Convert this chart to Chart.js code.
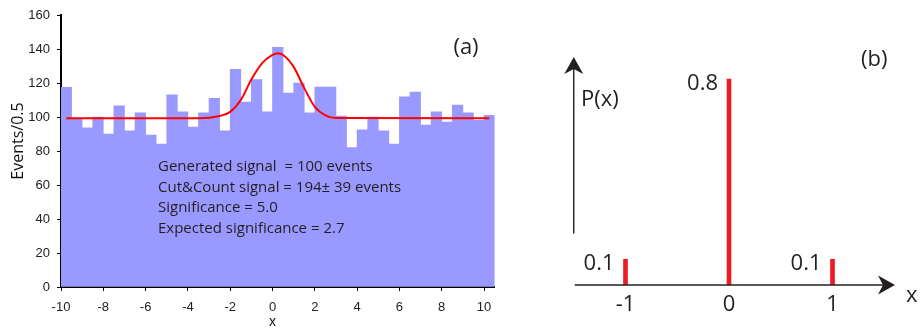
<!DOCTYPE html>
<html><head><meta charset="utf-8">
<script src="https://cdn.jsdelivr.net/npm/chart.js@4.4.1/dist/chart.umd.min.js"></script>
<style>
html,body{margin:0;padding:0;background:#fff;width:920px;height:328px;overflow:hidden}
#ca{position:absolute;left:0;top:0}
#cb{position:absolute;left:520px;top:0}
</style></head><body>
<canvas id="ca" width="520" height="328"></canvas>
<canvas id="cb" width="400" height="328"></canvas>
<script>
// ---------- panel (a) data ----------
const binStart = -10;
const binWidth = 0.5;
const counts = [117.5, 99, 93.7, 100, 90, 106.5, 91.8, 102.4, 89.4, 84.1,
  113, 103, 94, 102.4, 111, 91.8, 128, 108.8, 122, 103,
  141, 114, 120, 102.4, 117.6, 117.6, 100.6, 82, 92.4, 100,
  91.8, 84.1, 111.8, 114.7, 95.3, 103, 97, 107, 102.4, 98, 101];
const fitX = [-9.75, -3.5, -2.5, -2, -1.5, -1, -0.5, 0, 0.25, 0.5, 1, 1.5, 2, 2.5, 3, 10.25];
const fitY = [99.2, 99.2, 100.6, 103, 110, 122, 131.5, 136.5, 137.5, 136.5, 129.5, 117, 106, 101, 99.4, 99.2];
const yTicks = [0, 20, 40, 60, 80, 100, 120, 140, 160];
const xTicks = [-10, -8, -6, -4, -2, 0, 2, 4, 6, 8, 10];
const infoLines = ["Generated signal  = 100 events", "Cut&Count signal = 194\u00B1 39 events", "Significance = 5.0", "Expected significance = 2.7"];

// ---------- panel (b) data ----------
const pX = [-1, 0, 1];
const pProb = [0.1, 0.8, 0.1];
const pLabels = ["0.1", "0.8", "0.1"];
const pTickLabels = ["-1", "0", "1"];

const INK = '#231F20';
const MYR = '"Open Sans", "Noto Sans", sans-serif';
const ARIAL = '"Liberation Sans", Arial, sans-serif';

const histData = counts.map((c, i) => ({x: binStart + binWidth * (i + 0.5), y: c}));
const fitData = fitX.map((x, i) => ({x: x, y: fitY[i]}));

const annotA = {
  id: 'annotA',
  afterDraw(chart) {
    const ctx = chart.ctx;
    ctx.save();
    ctx.fillStyle = INK;
    ctx.font = '15px ' + MYR;
    ctx.textAlign = 'left';
    ctx.textBaseline = 'alphabetic';
    infoLines.forEach((t, i) => ctx.fillText(t, 158, 170.7 + 20.8 * i));
    ctx.font = '22px ' + MYR;
    ctx.textAlign = 'center';
    ctx.fillText('(a)', 466, 54);
    // y title
    ctx.font = '16px ' + MYR;
    ctx.translate(23, 141);
    ctx.rotate(-Math.PI / 2);
    ctx.fillStyle = '#111';
    ctx.fillText('Events/0.5', 0, 0);
    ctx.restore();
    ctx.save();
    ctx.fillStyle = '#111';
    ctx.font = '14px ' + ARIAL;
    ctx.textAlign = 'center';
    const xs = chart.scales.x;
    ctx.fillText('x', xs.getPixelForValue(0), 326);
    ctx.restore();
  }
};

new Chart(document.getElementById('ca'), {
  type: 'bar',
  data: {
    datasets: [
      {type: 'line', data: fitData, borderColor: '#FF0000', borderWidth: 2, pointRadius: 0,
       cubicInterpolationMode: 'monotone', fill: false, order: 0},
      {type: 'bar', data: histData, backgroundColor: '#9999FF', borderWidth: 0,
       barPercentage: 1, categoryPercentage: 1, order: 1}
    ]
  },
  options: {
    responsive: false, animation: false,
    layout: {padding: {left: 0, top: 15, right: 25.4, bottom: 0}},
    plugins: {legend: {display: false}, tooltip: {enabled: false}},
    scales: {
      x: {type: 'linear', min: -10, max: 10.5, offset: false, z: 1,
          afterBuildTicks: s => { s.ticks = xTicks.map(v => ({value: v})); },
          afterFit: s => { s.height = 41; },
          grid: {display: true, drawOnChartArea: false, drawTicks: true, tickLength: 4, color: '#000', offset: false},
          border: {display: true, color: '#000', width: 2},
          ticks: {padding: 9, color: '#222', font: {family: ARIAL, size: 13}, maxRotation: 0}},
      y: {min: 0, max: 160, z: 1,
          afterBuildTicks: s => { s.ticks = yTicks.map(v => ({value: v})); },
          afterFit: s => { s.width = 61; },
          grid: {display: true, drawOnChartArea: false, drawTicks: true, tickLength: 4, color: '#000'},
          border: {display: true, color: '#000', width: 2},
          ticks: {padding: 7, color: '#222', font: {family: ARIAL, size: 13}}}
    }
  },
  plugins: [annotA]
});

// ---------- panel (b) ----------
function arrowHead(ctx, x, y, dx, dy) {
  // tip at (x,y), pointing direction (dx,dy)
  const L = 17, N = 12, W = 9.5;
  const px = -dy, py = dx;
  ctx.beginPath();
  ctx.moveTo(x, y);
  ctx.lineTo(x - dx * L + px * W, y - dy * L + py * W);
  ctx.lineTo(x - dx * N, y - dy * N);
  ctx.lineTo(x - dx * L - px * W, y - dy * L - py * W);
  ctx.closePath();
  ctx.fill();
}

const annotB = {
  id: 'annotB',
  afterDraw(chart) {
    const ctx = chart.ctx;
    const xs = chart.scales.x, ys = chart.scales.y;
    const x0 = xs.getPixelForValue(-1.49);
    const xEnd = xs.getPixelForValue(1.604);
    const yBase = ys.getPixelForValue(0);
    ctx.save();
    ctx.strokeStyle = INK; ctx.fillStyle = INK; ctx.lineWidth = 1.4;
    // horizontal axis
    ctx.beginPath(); ctx.moveTo(x0, yBase); ctx.lineTo(xEnd - 12, yBase); ctx.stroke();
    arrowHead(ctx, xEnd, yBase, 1, 0);
    // vertical axis
    const vx = xs.getPixelForValue(-1.5);
    const yLow = ys.getPixelForValue(0.2), yTip = ys.getPixelForValue(0.885);
    ctx.beginPath(); ctx.moveTo(vx, yLow); ctx.lineTo(vx, yTip + 12); ctx.stroke();
    arrowHead(ctx, vx, yTip, 0, -1);
    // texts
    ctx.font = '22px ' + MYR;
    ctx.textBaseline = 'alphabetic';
    ctx.textAlign = 'right';
    pX.forEach((v, i) => {
      ctx.fillText(pLabels[i], xs.getPixelForValue(v) - 11, ys.getPixelForValue(pProb[i]) + 11);
    });
    ctx.textAlign = 'center';
    pX.forEach((v, i) => {
      ctx.fillText(pTickLabels[i], xs.getPixelForValue(v), 311);
    });
    ctx.textAlign = 'left';
    ctx.fillText('P(x)', 581 - 520, 106);
    ctx.fillText('x', 906 - 520, 302);
    ctx.fillText('(b)', 861 - 520, 66);
    ctx.restore();
  }
};

new Chart(document.getElementById('cb'), {
  type: 'bar',
  data: {
    datasets: [{data: pX.map((x, i) => ({x: x, y: pProb[i]})), backgroundColor: '#ED1C24',
      borderWidth: 0, barThickness: 4}]
  },
  options: {
    responsive: false, animation: false,
    layout: {padding: {left: 22.7, right: 4.7, top: 27.5, bottom: 43}},
    plugins: {legend: {display: false}, tooltip: {enabled: false}},
    scales: {
      x: {type: 'linear', min: -1.8, max: 1.8, display: false, offset: false},
      y: {min: 0, max: 1, display: false}
    }
  },
  plugins: [annotB]
});
</script>
</body></html>
